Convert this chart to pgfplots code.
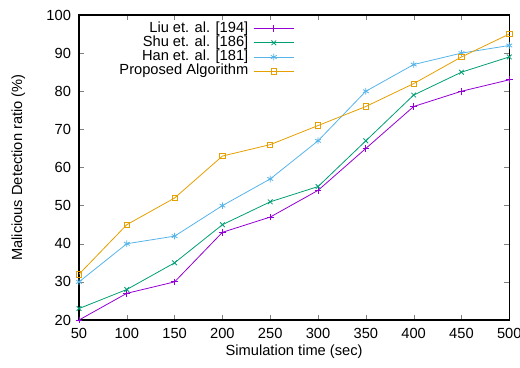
\documentclass[border=0pt]{standalone}
\usepackage{pgfplots}
\pgfplotsset{compat=1.18}
\usepackage{fontspec}
\setmainfont{Liberation Sans}
\definecolor{cliu}{HTML}{9400D3}
\definecolor{cshu}{HTML}{009E73}
\definecolor{chan}{HTML}{56B4E9}
\definecolor{cpro}{HTML}{E69F00}
\begin{document}
\begin{tikzpicture}
\begin{axis}[
  at={(0pt,0pt)}, anchor=south west,
  scale only axis,
  width=322.7pt, height=228.75pt,
  xmin=50, xmax=500, ymin=20, ymax=100,
  xtick={50,100,...,500}, ytick={20,30,...,100},
  /pgf/number format/assume math mode=true,
  tick label style={font=\fontsize{11}{12}\selectfont},
  yticklabel style={xshift=-2.5pt},
  xticklabel style={yshift=-2.5pt},
  xlabel={Simulation time (sec)},
  ylabel={Malicious Detection ratio (\%)},
  every axis x label/.style={at={(axis description cs:0.5,0)}, yshift=-24pt, anchor=center, font=\fontsize{11}{12}\selectfont},
  every axis y label/.style={at={(axis description cs:0,0.5)}, xshift=-45.5pt, rotate=90, anchor=center, font=\fontsize{11}{12}\selectfont},
  tick align=inside,
  major tick length=3.75pt,
  axis line style={line width=0.8pt},
  legend plot pos=right,
  legend cell align=right,
  legend style={draw=none, fill=none, at={(0.501,1)}, yshift=-4.6pt, anchor=north east,
    font=\fontsize{11}{12}\selectfont, row sep=0pt, column sep=3.75pt, inner sep=0pt,
    nodes={inner sep=0pt, text height=8pt, text depth=2.7pt}},
  legend image code/.code={\draw[mark repeat=2,mark phase=2] plot coordinates {(0cm,0cm)(0.53cm,0cm)(1.06cm,0cm)};},
  every axis plot/.append style={line width=0.6pt, mark size=2.5pt},
]
\addplot[color=cliu, mark=+] coordinates {(50,20)(100,27)(150,30)(200,43)(250,47)(300,54)(350,65)(400,76)(450,80)(500,83)};
\addlegendentry{Liu et. al. [194]}
\addplot[color=cshu, mark=x] coordinates {(50,23)(100,28)(150,35)(200,45)(250,51)(300,55)(350,67)(400,79)(450,85)(500,89)};
\addlegendentry{Shu et. al. [186]}
\addplot[color=chan, mark=asterisk] coordinates {(50,30)(100,40)(150,42)(200,50)(250,57)(300,67)(350,80)(400,87)(450,90)(500,92)};
\addlegendentry{Han et. al. [181]}
\addplot[color=cpro, mark=square, mark size=2pt] coordinates {(50,32)(100,45)(150,52)(200,63)(250,66)(300,71)(350,76)(400,82)(450,89)(500,95)};
\addlegendentry{Proposed Algorithm}
\end{axis}
\pgfresetboundingbox
\path[use as bounding box] (-59.25pt,-35.25pt) rectangle (330.75pt,240pt);
\end{tikzpicture}
\end{document}
